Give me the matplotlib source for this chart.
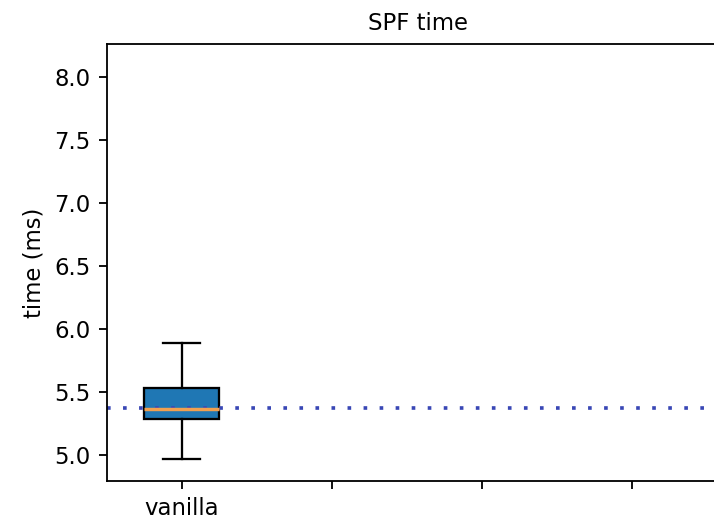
import matplotlib
matplotlib.use("Agg")
import matplotlib.pyplot as plt

# box stats (ms)
labels = ["vanilla", "", "", ""]
positions = [1, 2, 3, 4]
q1 = [5.286]
med = [5.367]
q3 = [5.534]
whislo = [4.971]
whishi = [5.894]
baseline = 5.378  # dotted reference line

stats = []
for i in range(len(med)):
    stats.append({"med": med[i], "q1": q1[i], "q3": q3[i],
                  "whislo": whislo[i], "whishi": whishi[i], "fliers": []})

dpi = 164
fig = plt.figure(figsize=(714 / dpi, 519 / dpi), dpi=dpi)
ax = fig.add_axes([0.1494, 0.0732, 0.872, 0.842])

ax.bxp(stats, positions=positions[:len(stats)], widths=0.5, patch_artist=True,
       boxprops=dict(facecolor="#1f77b4", edgecolor="black"),
       medianprops=dict(color="#f0a050", lw=1.5))
ax.axhline(baseline, color="#3947b5", lw=1.6, linestyle=(0, (1, 3.4)))

ax.set_xticks(positions)
ax.set_xticklabels(labels)
ax.set_xlim(0.5, 4.65)
ax.set_ylim(4.796, 8.264)
ax.set_yticks([5.0, 5.5, 6.0, 6.5, 7.0, 7.5, 8.0])
ax.set_ylabel("time (ms)")
ax.set_title("SPF time", fontsize=10)

fig.savefig("out.png", dpi=dpi)
